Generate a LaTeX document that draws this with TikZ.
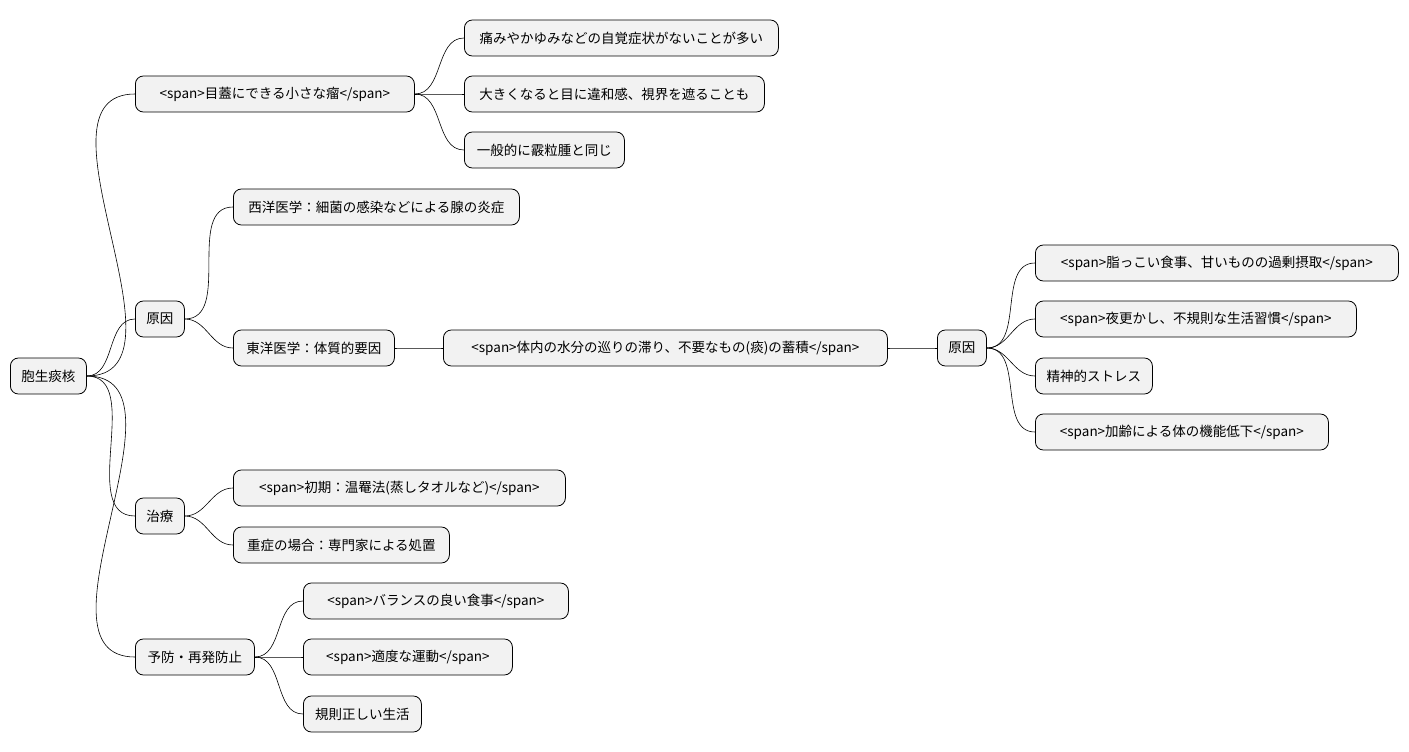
\documentclass[tikz,border=0pt]{standalone}
\usepackage{fontspec}
\setmainfont{Noto Sans CJK JP}
\begin{document}
\begin{tikzpicture}[x=1pt,y=-1pt,
  mm/.style={draw=black,fill=black!5,rounded corners=8pt,line width=0.8pt,minimum height=36pt,inner sep=0pt,font=\fontsize{13.5pt}{15pt}\selectfont,anchor=west},
  ln/.style={draw=black,line width=0.6pt}]
\useasboundingbox (0,0) rectangle (1409,752);
\newcommand\nd[5]{\node[mm,minimum width=#3pt-#2pt] (#1) at (#2,#4) {#5};}
\nd{r}{10}{86}{376}{胞生痰核}
\nd{a}{135}{414}{94}{<span>目蓋にできる小さな瘤</span>}
\nd{a1}{464}{778}{38}{痛みやかゆみなどの自覚症状がないことが多い}
\nd{a2}{464}{764}{94}{大きくなると目に違和感、視界を遮ることも}
\nd{a3}{464}{624}{150}{一般的に霰粒腫と同じ}
\nd{b}{135}{184}{319}{原因}
\nd{b1}{233}{519}{207}{西洋医学：細菌の感染などによる腺の炎症}
\nd{b2}{233}{394}{348}{東洋医学：体質的要因}
\nd{c}{443}{887}{348}{<span>体内の水分の巡りの滞り、不要なもの(痰)の蓄積</span>}
\nd{d}{937}{986}{348}{原因}
\nd{d1}{1035}{1398}{263}{<span>脂っこい食事、甘いものの過剰摂取</span>}
\nd{d2}{1035}{1356}{319}{<span>夜更かし、不規則な生活習慣</span>}
\nd{d3}{1035}{1152}{376}{精神的ストレス}
\nd{d4}{1035}{1328}{432}{<span>加齢による体の機能低下</span>}
\nd{e}{135}{184}{516}{治療}
\nd{e1}{233}{565}{488}{<span>初期：温罨法(蒸しタオルなど)</span>}
\nd{e2}{233}{449}{545}{重症の場合：専門家による処置}
\nd{f}{135}{254}{657}{予防・再発防止}
\nd{f1}{303}{568}{601}{<span>バランスの良い食事</span>}
\nd{f2}{303}{512}{657}{<span>適度な運動</span>}
\nd{f3}{303}{421}{714}{規則正しい生活}
\foreach \p/\c in {r/a,r/b,r/e,r/f,a/a1,a/a2,a/a3,b/b1,b/b2,b2/c,c/d,d/d1,d/d2,d/d3,d/d4,e/e1,e/e2,f/f1,f/f2,f/f3}
  \draw[ln] (\p.east) to[out=0,in=180] (\c.west);
\end{tikzpicture}
\end{document}
